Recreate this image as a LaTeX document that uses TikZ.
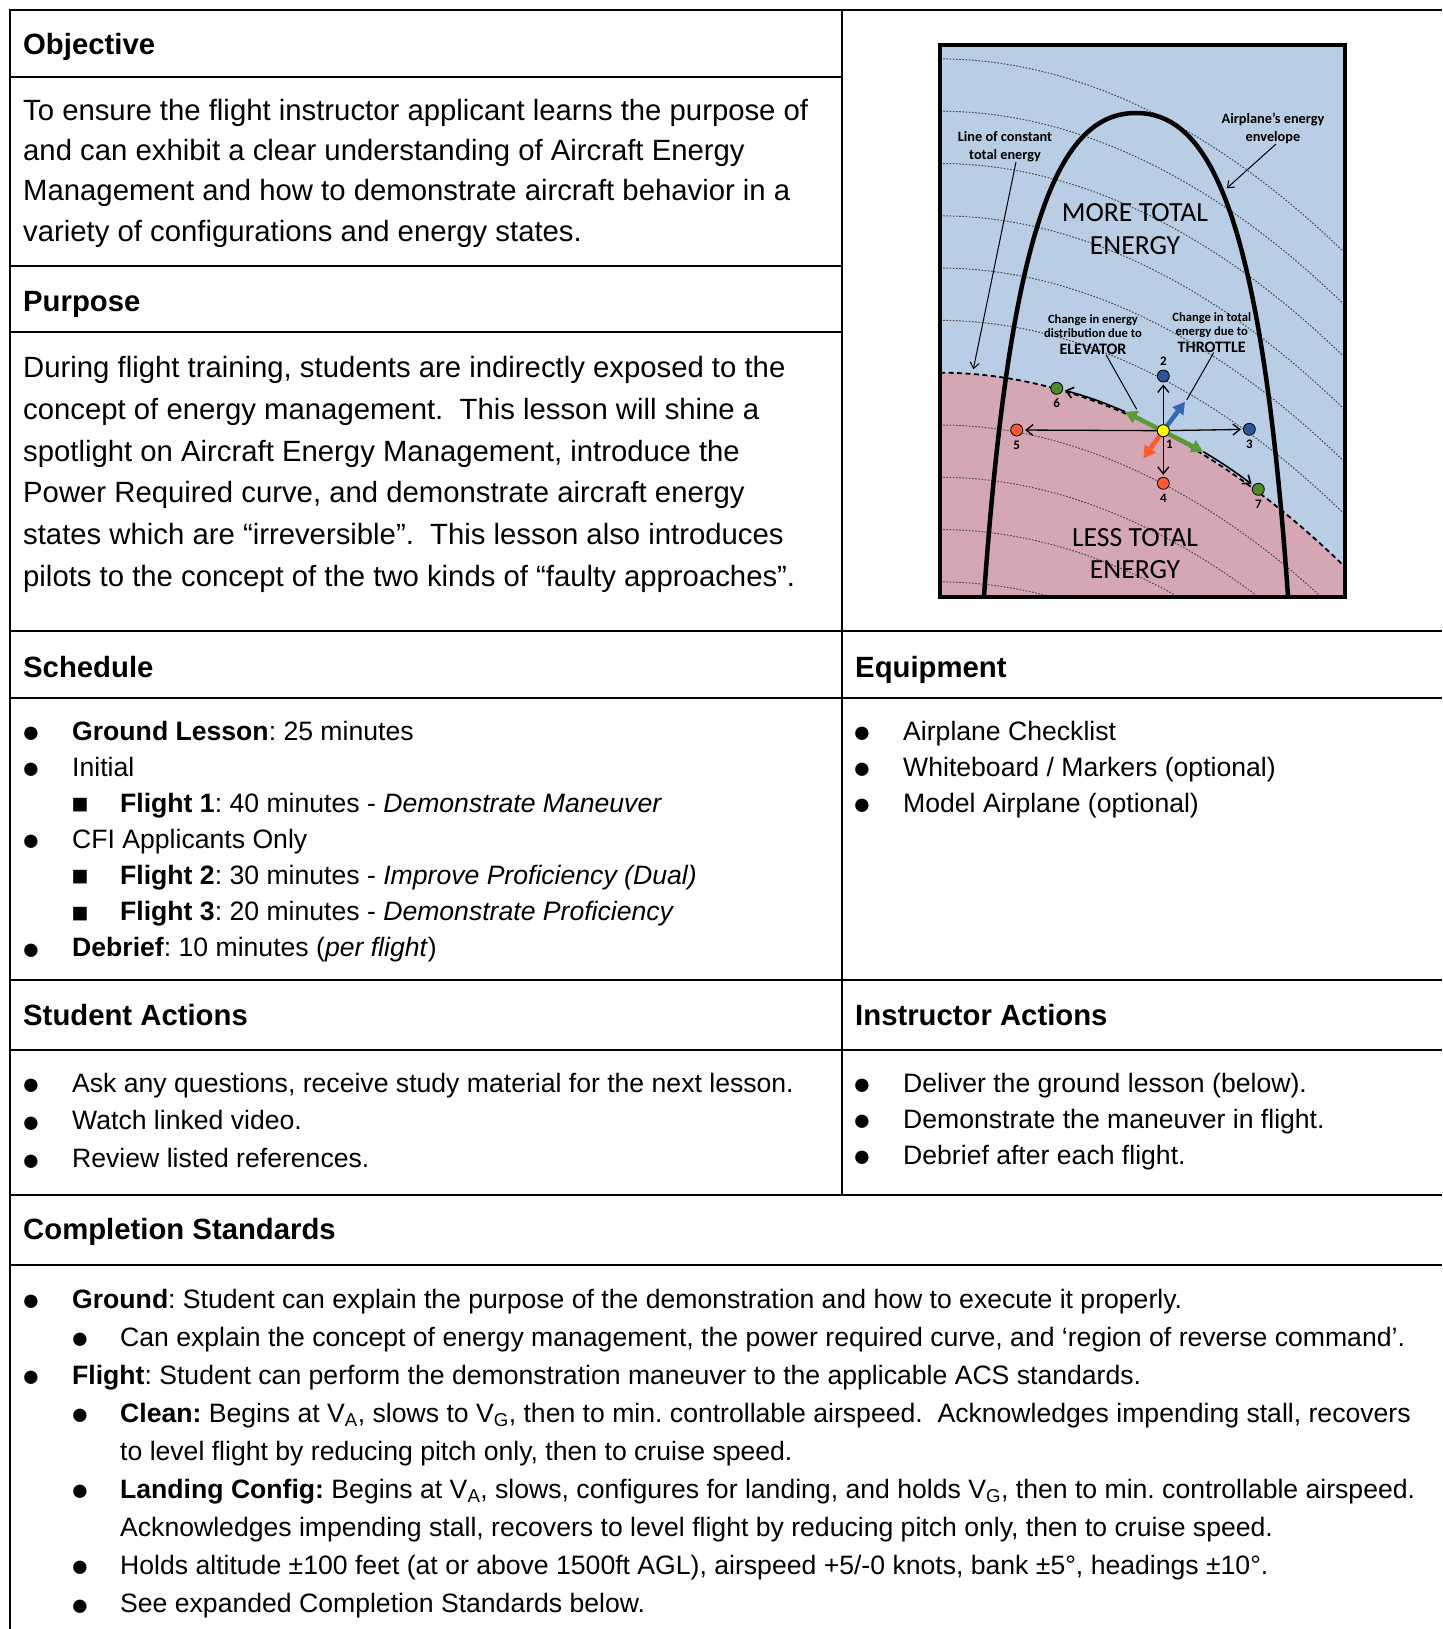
\documentclass[tikz,border=0pt]{standalone}
\usepackage{fontspec}
\setmainfont{Liberation Sans}
\newfontfamily\diagfont{Carlito}
\usetikzlibrary{arrows.meta, positioning}
\definecolor{skyfill}{HTML}{B9CDE5}
\definecolor{rosefill}{HTML}{D5A6B4}
\definecolor{ptblue}{HTML}{2F5597}
\definecolor{ptred}{HTML}{FF5733}
\definecolor{ptgreen}{HTML}{4E8A2A}
\definecolor{ptyellow}{HTML}{FFFF00}
\definecolor{elevgreen}{HTML}{5B9A3A}
\definecolor{thrblue}{HTML}{3567B0}
\definecolor{throrange}{HTML}{FF5A2C}
\definecolor{contour}{HTML}{4A4A4A}
\newcommand{\tblhead}{\fontsize{29.3}{35}\selectfont\bfseries}
\newcommand{\tblbody}{\fontsize{29.3}{35}\selectfont}
\newcommand{\tbllist}{\fontsize{26.6}{32}\selectfont}
\newcommand{\tblbullet}{\fontsize{31}{34}\selectfont}
\newcommand{\tblsquare}{\fontsize{28}{32}\selectfont}
\tikzset{
  gridline/.style={line width=2.2pt},
  cellhead/.style={font=\tblhead, anchor=base west, inner sep=0pt},
  celltext/.style={font=\tblbody, anchor=base west, inner sep=0pt},
  listtext/.style={font=\tbllist, anchor=base west, inner sep=0pt},
  bul/.style={font=\tblbullet, anchor=base, inner sep=0pt, yshift=-2.5pt},
  sqbul/.style={font=\tblsquare, anchor=base, inner sep=0pt, yshift=-1.5pt},
  contourline/.style={draw=contour, line width=1pt, dash pattern=on 1.6pt off 1.6pt},
  boundary/.style={line width=1.8pt, dash pattern=on 5pt off 3.5pt},
  envelope/.style={line width=4.5pt},
  dot/.style={circle, draw=black, line width=0.8pt, minimum size=12pt, inner sep=0pt},
  numlabel/.style={font={\diagfont\fontsize{13}{14}\selectfont\bfseries}, inner sep=1pt},
  smalllabel/.style={font={\diagfont\fontsize{12.6}{14.5}\selectfont\bfseries}, align=center, inner sep=0pt},
  sidelabel/.style={font={\diagfont\fontsize{14.3}{18}\selectfont\bfseries}, align=center, inner sep=0pt},
  biglabel/.style={font={\diagfont\fontsize{27.7}{32.3}\selectfont}, align=center, inner sep=0pt},
  thinarrow/.style={-{Straight Barb[length=7pt, width=11pt]}, line width=1.3pt, shorten >=2pt},
  leader/.style={line width=1pt},
  fatarrow/.style={-{Triangle[length=12pt, width=13pt]}, line width=4.5pt}
}
\frenchspacing
\begin{document}
\begin{tikzpicture}[x=1pt, y=-1pt]
\useasboundingbox (0,0) rectangle (1442,1629);

% Table grid
\draw[gridline] (10,1629) -- (10,10) -- (1442,10);
\draw[gridline] (842,10) -- (842,1195);
\foreach \yy in {77,266,332} \draw[gridline] (10,\yy) -- (842,\yy);
\foreach \yy in {631,698,980,1050,1195,1265} \draw[gridline] (10,\yy) -- (1442,\yy);

% Objective
\node[cellhead] (objhead) at (23,55) {Objective};
\node[celltext] (obj1) at (23,120.5) {To ensure the flight instructor applicant learns the purpose of};
\node[celltext] (obj2) at (23,160.7) {and can exhibit a clear understanding of Aircraft Energy};
\node[celltext] (obj3) at (23,200.9) {Management and how to demonstrate aircraft behavior in a};
\node[celltext] (obj4) at (23,241.1) {variety of configurations and energy states.};

% Purpose
\node[cellhead] (purhead) at (23,311.5) {Purpose};
\node[celltext] (pur1) at (23,377.2) {During flight training, students are indirectly exposed to the};
\node[celltext] (pur2) at (23,419.1) {concept of energy management.~~This lesson will shine a};
\node[celltext] (pur3) at (23,461) {spotlight on Aircraft Energy Management, introduce the};
\node[celltext] (pur4) at (23,502.9) {Power Required curve, and demonstrate aircraft energy};
\node[celltext] (pur5) at (23,544.8) {states which are “irreversible”.~~This lesson also introduces};
\node[celltext] (pur6) at (23,586.7) {pilots to the concept of the two kinds of “faulty approaches”.};

% Schedule
\node[cellhead] (schhead) at (23,677) {Schedule};
\foreach \yy/\nm in {740/sb1, 776.1/sb2, 848.3/sb4, 956.6/sb7} \node[bul] (\nm) at (31,\yy) {●};
\foreach \yy/\nm in {812.2/sb3, 884.4/sb5, 920.5/sb6} \node[sqbul] (\nm) at (80,\yy) {■};
\node[listtext] (sch1) at (72,740) {\textbf{Ground Lesson}: 25 minutes};
\node[listtext] (sch2) at (72,776.1) {Initial};
\node[listtext] (sch3) at (120,812.2) {\textbf{Flight 1}: 40 minutes - \textit{Demonstrate Maneuver}};
\node[listtext] (sch4) at (72,848.3) {CFI Applicants Only};
\node[listtext] (sch5) at (120,884.4) {\textbf{Flight 2}: 30 minutes - \textit{Improve Proficiency (Dual)}};
\node[listtext] (sch6) at (120,920.5) {\textbf{Flight 3}: 20 minutes - \textit{Demonstrate Proficiency}};
\node[listtext] (sch7) at (72,956.6) {\textbf{Debrief}: 10 minutes (\textit{per flight})};

% Equipment
\node[cellhead] (eqphead) at (855,677) {Equipment};
\foreach \yy/\nm in {740/eb1, 776.1/eb2, 812.2/eb3} \node[bul] (\nm) at (862,\yy) {●};
\node[listtext] (eqp1) at (903,740) {Airplane Checklist};
\node[listtext] (eqp2) at (903,776.1) {Whiteboard / Markers (optional)};
\node[listtext] (eqp3) at (903,812.2) {Model Airplane (optional)};

% Student / Instructor actions
\node[cellhead] (stuhead) at (23,1025) {Student Actions};
\node[cellhead] (inshead) at (855,1025) {Instructor Actions};
\foreach \yy/\nm in {1092/ab1, 1129.8/ab2, 1167.6/ab3} \node[bul] (\nm) at (31,\yy) {●};
\node[listtext] (stu1) at (72,1092) {Ask any questions, receive study material for the next lesson.};
\node[listtext] (stu2) at (72,1129.8) {Watch linked video.};
\node[listtext] (stu3) at (72,1167.6) {Review listed references.};
\foreach \yy/\nm in {1092/ib1, 1128/ib2, 1164/ib3} \node[bul] (\nm) at (862,\yy) {●};
\node[listtext] (ins1) at (903,1092) {Deliver the ground lesson (below).};
\node[listtext] (ins2) at (903,1128) {Demonstrate the maneuver in flight.};
\node[listtext] (ins3) at (903,1164) {Debrief after each flight.};

% Completion standards
\node[cellhead] (comhead) at (23,1239) {Completion Standards};
\foreach \yy/\nm in {1308/cb1, 1384.1/cb3} \node[bul] (\nm) at (31,\yy) {●};
\foreach \yy/\nm in {1346.1/cb2, 1422.2/cb4, 1498.3/cb6, 1574.4/cb8, 1612.5/cb9} \node[bul] (\nm) at (80,\yy) {●};
\node[listtext] (com1) at (72,1308) {\textbf{Ground}: Student can explain the purpose of the demonstration and how to execute it properly.};
\node[listtext] (com2) at (120,1346.1) {Can explain the concept of energy management, the power required curve, and ‘region of reverse command’.};
\node[listtext] (com3) at (72,1384.1) {\textbf{Flight}: Student can perform the demonstration maneuver to the applicable ACS standards.};
\node[listtext] (com4) at (120,1422.2) {\textbf{Clean:} Begins at V\textsubscript{A}, slows to V\textsubscript{G}, then to min. controllable airspeed.~~Acknowledges impending stall, recovers};
\node[listtext] (com5) at (120,1460.2) {to level flight by reducing pitch only, then to cruise speed.};
\node[listtext] (com6) at (120,1498.3) {\textbf{Landing Config:} Begins at V\textsubscript{A}, slows, configures for landing, and holds V\textsubscript{G}, then to min. controllable airspeed.};
\node[listtext] (com7) at (120,1536.4) {Acknowledges impending stall, recovers to level flight by reducing pitch only, then to cruise speed.};
\node[listtext] (com8) at (120,1574.4) {Holds altitude ±100 feet (at or above 1500ft AGL), airspeed +5/-0 knots, bank ±5°, headings ±10°.};
\node[listtext] (com9) at (120,1612.5) {See expanded Completion Standards below.};

% Energy diagram: background and regions
\fill[skyfill] (940,45) rectangle (1345,597);
\begin{scope}
  \clip (940,45) rectangle (1345,597);
  \fill[rosefill] (940,372.7) parabola[bend at start] (1345,566.9) -- (1345,600) -- (940,600) -- cycle;
  % lines of constant total energy
  \foreach \yy in {58.9,111.2,163.5,215.8,268.1,320.4,425.0,477.3,529.6,581.9}
    \draw[contourline] (940,\yy) parabola[bend at start] ++(405,194.2);
  \draw[boundary] (940,372.7) parabola[bend at start] (1345,566.9);
  % energy envelope
  \draw[envelope] (983.6,602) .. controls (1010,220) and (1060,113) .. (1136,113)
    .. controls (1212,113) and (1262,220) .. (1288.4,602);
\end{scope}

% Labels
\node[sidelabel] (constlbl) at (1005,146.5) {Line of constant\\total energy};
\node[sidelabel] (envlbl) at (1273,128.5) {Airplane’s energy\\envelope};
\node[biglabel] (morelbl) at (1135,229) {MORE TOTAL\\ENERGY};
\node[biglabel] (lesslbl) at (1135,553.6) {LESS TOTAL\\ENERGY};
\node[smalllabel] (elevlbl) at (1093,334.5) {Change in energy\\distribution due to\\[2pt]{\fontsize{16}{17}\selectfont ELEVATOR}};
\node[smalllabel] (thrlbl) at (1211.7,332.5) {Change in total\\energy due to\\[2pt]{\fontsize{16}{17}\selectfont THROTTLE}};

% Energy states
\node[dot, fill=ptyellow] (p1) at (1163.3,430.7) {};
\node[dot, fill=ptblue] (p2) at (1163.3,376) {};
\node[dot, fill=ptblue] (p3) at (1249.3,429.3) {};
\node[dot, fill=ptred] (p4) at (1163.3,483.3) {};
\node[dot, fill=ptred] (p5) at (1016.7,430) {};
\node[dot, fill=ptgreen] (p6) at (1056.7,388.3) {};
\node[dot, fill=ptgreen] (p7) at (1258.3,489.3) {};

\coordinate (elevup) at (1125,411.7);
\coordinate (elevdn) at (1203.3,451.7);
\coordinate (thrup) at (1185,401.7);
\coordinate (thrdn) at (1143.3,458.3);
\coordinate (constend) at (973.3,369.3);
\coordinate (envend) at (1226.7,188.3);
\coordinate (elevend) at (1136.7,409.3);
\coordinate (thrend) at (1186.7,400);

% Control arrows
\draw[thinarrow] (p1) -- (p2);
\draw[thinarrow] (p1) -- (p3);
\draw[thinarrow] (p1) -- (p4);
\draw[thinarrow] (p1) -- (p5);
\draw[thinarrow, line width=1.6pt] (elevup) to[bend right=4] (p6);
\draw[thinarrow, line width=1.6pt] (elevdn) to[bend left=3] (p7);
\draw[fatarrow, elevgreen, {Triangle[length=12pt, width=13pt]}-{Triangle[length=12pt, width=13pt]}] (elevup) -- (elevdn);
\draw[fatarrow, thrblue] (p1.center) -- (thrup);
\draw[fatarrow, throrange] (p1.center) -- (thrdn);
\node[dot, fill=ptyellow] at (p1) {};

% Leader lines
\draw[leader, -{Straight Barb[length=6pt, width=9pt]}] ([xshift=11pt]constlbl.south) -- (constend);
\draw[leader, -{Straight Barb[length=6pt, width=9pt]}] ([xshift=3pt]envlbl.south) -- (envend);
\draw[leader] ([xshift=13pt]elevlbl.south) -- (elevend);
\draw[leader] ([xshift=2pt]thrlbl.south) -- (thrend);

% State numbers
\node[numlabel, below right=3.5pt and -3pt of p1] (n1) {1};
\node[numlabel, above=3pt of p2] (n2) {2};
\node[numlabel, below=3pt of p3] (n3) {3};
\node[numlabel, below=3pt of p4] (n4) {4};
\node[numlabel, below=3pt of p5] (n5) {5};
\node[numlabel, below=3pt of p6] (n6) {6};
\node[numlabel, below=3pt of p7] (n7) {7};

% Diagram frame
\draw[line width=3.5pt] (940,45) rectangle (1345,597);
\end{tikzpicture}
\end{document}
